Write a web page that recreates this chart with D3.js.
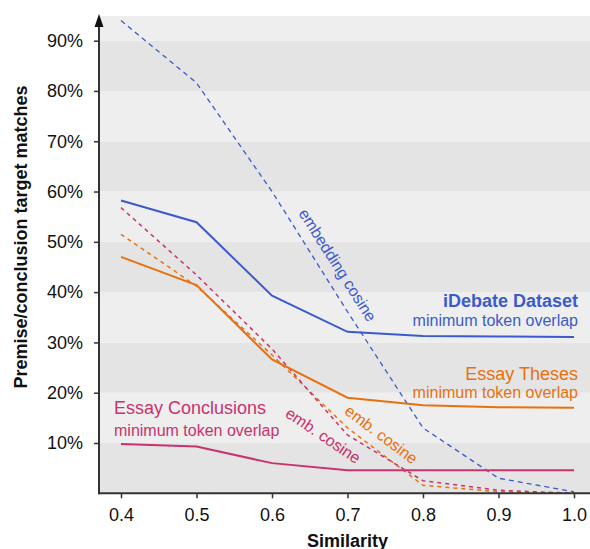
<!DOCTYPE html>
<html>
<head>
<meta charset="utf-8">
<script src="https://cdn.jsdelivr.net/npm/d3@7"></script>
<style>
  body { margin: 0; background: #fff; }
  text { font-family: "Liberation Sans", Arial, Helvetica, sans-serif; }
</style>
</head>
<body>
<svg width="590" height="549"></svg>
<script>
// similarity thresholds on the x axis
const similarity = [0.4, 0.5, 0.6, 0.7, 0.8, 0.9, 1.0];

// share of premise/conclusion target matches
const idebateTokenOverlap = [0.582, 0.539, 0.393, 0.321, 0.313, 0.312, 0.311];
const idebateEmbCosine = [0.94, 0.816, 0.60, 0.361, 0.13, 0.03, 0.003];
const thesesTokenOverlap = [0.470, 0.414, 0.266, 0.190, 0.175, 0.171, 0.170];
const thesesEmbCosine = [0.515, 0.412, 0.275, 0.13, 0.016, 0.003, 0.0];
const conclusionsTokenOverlap = [0.098, 0.093, 0.060, 0.046, 0.046, 0.046, 0.046];
const conclusionsEmbCosine = [0.568, 0.434, 0.287, 0.116, 0.025, 0.006, 0.0];

const yTicks = [0.1, 0.2, 0.3, 0.4, 0.5, 0.6, 0.7, 0.8, 0.9];

const blue = "#3b5bcc",
  orange = "#e8710e",
  pink = "#c8336f";

const svg = d3.select("svg");

const plotLeft = 99,
  plotRight = 590,
  plotTop = 16,
  plotBottom = 493.3;

const x = d3.scaleLinear().domain([0.4, 1.0]).range([121, 574]);
const y = d3.scaleLinear().domain([0, 0.949]).range([plotBottom, plotTop]);

// striped background, one band per 10%
const bands = d3.range(0, 0.95, 0.1);
svg
  .selectAll("rect.band")
  .data(bands)
  .enter()
  .append("rect")
  .attr("class", "band")
  .attr("x", plotLeft)
  .attr("width", plotRight - plotLeft)
  .attr("y", (d) => y(Math.min(d + 0.1, 0.949)))
  .attr("height", (d) => y(d) - y(Math.min(d + 0.1, 0.949)))
  .attr("fill", (d, i) => (i % 2 === 0 ? "#e4e4e4" : "#eeeeee"));

// lines
const line = d3
  .line()
  .x((d, i) => x(similarity[i]))
  .y((d) => y(d));

const series = [
  { values: idebateEmbCosine, color: blue, dash: "5,4", width: 1.3 },
  { values: thesesEmbCosine, color: orange, dash: "4,4", width: 1.5 },
  { values: conclusionsEmbCosine, color: pink, dash: "4,4", width: 1.5 },
  { values: idebateTokenOverlap, color: blue, dash: null, width: 2 },
  { values: thesesTokenOverlap, color: orange, dash: null, width: 2 },
  { values: conclusionsTokenOverlap, color: pink, dash: null, width: 2 },
];

svg
  .selectAll("path.series")
  .data(series)
  .enter()
  .append("path")
  .attr("class", "series")
  .attr("fill", "none")
  .attr("stroke", (d) => d.color)
  .attr("stroke-width", (d) => d.width)
  .attr("stroke-dasharray", (d) => d.dash)
  .attr("d", (d) => line(d.values));

// axes
const xAxis = d3.axisBottom(x).tickValues(similarity).tickFormat(d3.format(".1f")).tickSize(5).tickPadding(8);
const yAxis = d3.axisLeft(y).tickValues(yTicks).tickFormat(d3.format(".0%")).tickSize(5).tickPadding(11);

const gx = svg.append("g").attr("transform", `translate(0,${plotBottom})`).call(xAxis);
const gy = svg.append("g").attr("transform", `translate(${plotLeft},0)`).call(yAxis);

gx.select(".domain").attr("d", `M${plotLeft - 1},0H${plotRight}`);
gy.select(".domain").attr("d", `M0,${plotBottom + 1}V27`);

[gx, gy].forEach((g) => {
  g.select(".domain").attr("stroke", "#333").attr("stroke-width", 2);
  g.selectAll(".tick line").attr("stroke", "#333").attr("stroke-width", 1.5);
  g.selectAll(".tick text").attr("fill", "#111").style("font-size", "18px");
});
gx.selectAll(".tick text").attr("dy", "0.8em");

// arrow head on the y axis
svg
  .append("path")
  .attr("d", `M${plotLeft},14L${plotLeft - 4.5},27L${plotLeft + 4.5},27Z`)
  .attr("fill", "#111");

// axis titles
svg
  .append("text")
  .attr("x", x(0.7))
  .attr("y", 547)
  .attr("text-anchor", "middle")
  .style("font-size", "18px")
  .style("font-weight", "bold")
  .attr("fill", "#111")
  .text("Similarity");

svg
  .append("text")
  .attr("transform", "translate(27,237) rotate(-90)")
  .attr("text-anchor", "middle")
  .style("font-size", "18px")
  .style("font-weight", "bold")
  .attr("fill", "#111")
  .text("Premise/conclusion target matches");

// series labels
const labels = [
  { t: "iDebate Dataset", x: 578, y: 307, size: 18, bold: true, color: blue, anchor: "end" },
  { t: "minimum token overlap", x: 578, y: 326, size: 16, color: blue, anchor: "end" },
  { t: "Essay Theses", x: 578, y: 380, size: 18, color: orange, anchor: "end" },
  { t: "minimum token overlap", x: 578, y: 398, size: 16, color: orange, anchor: "end" },
  { t: "Essay Conclusions", x: 114, y: 414, size: 18, color: pink, anchor: "start" },
  { t: "minimum token overlap", x: 114, y: 436, size: 16, color: pink, anchor: "start" },
];

svg
  .selectAll("text.label")
  .data(labels)
  .enter()
  .append("text")
  .attr("class", "label")
  .attr("x", (d) => d.x)
  .attr("y", (d) => d.y)
  .attr("text-anchor", (d) => d.anchor)
  .attr("fill", (d) => d.color)
  .style("font-size", (d) => d.size + "px")
  .style("font-weight", (d) => (d.bold ? "bold" : "normal"))
  .text((d) => d.t);

// rotated labels along the dashed lines
const slanted = [
  { t: "embedding cosine", x: 333, y: 268, angle: 57.5, color: blue },
  { t: "emb. cosine", x: 378, y: 439, angle: 37, color: orange },
  { t: "emb. cosine", x: 320, y: 440, angle: 34, color: pink },
];

svg
  .selectAll("text.slanted")
  .data(slanted)
  .enter()
  .append("text")
  .attr("class", "slanted")
  .attr("transform", (d) => `translate(${d.x},${d.y}) rotate(${d.angle})`)
  .attr("text-anchor", "middle")
  .attr("fill", (d) => d.color)
  .style("font-size", "16px")
  .text((d) => d.t);
</script>
</body>
</html>
